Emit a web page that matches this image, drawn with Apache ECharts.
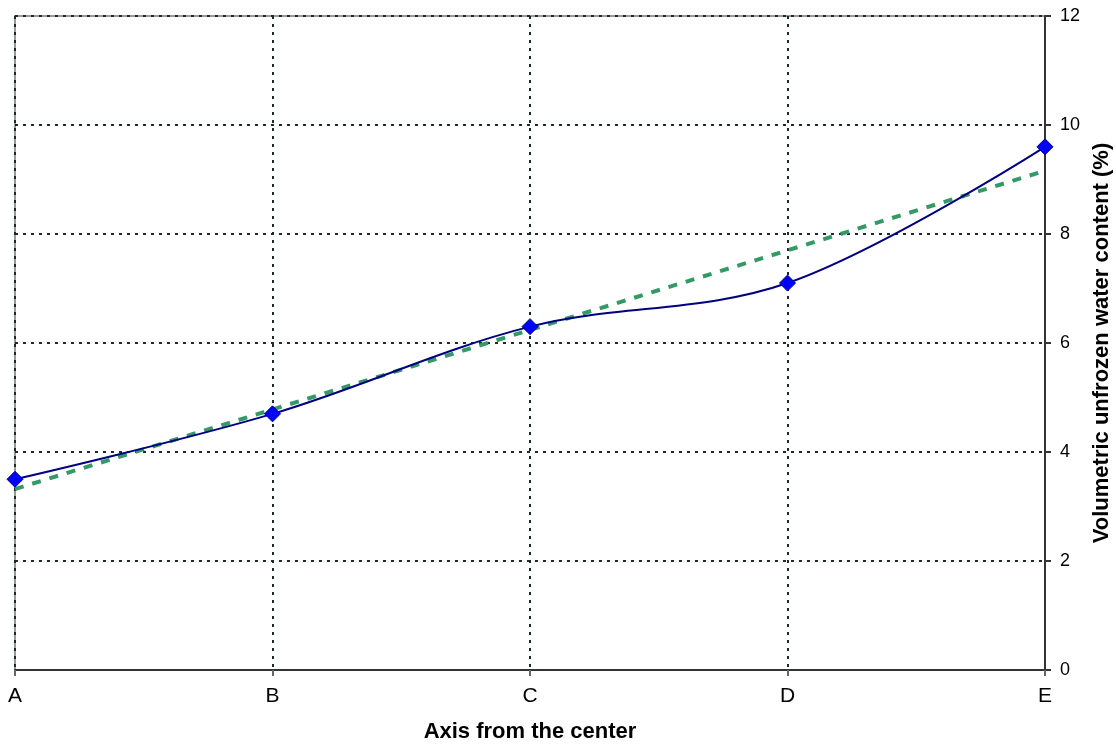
<!DOCTYPE html>
<html><head><meta charset="utf-8">
<script src="https://cdn.jsdelivr.net/npm/echarts@6/dist/echarts.min.js"></script>
<style>html,body{margin:0;padding:0;background:#fff}#c{width:1116px;height:746px}</style>
</head><body><div id="c"></div>
<script>
const categories = ['A', 'B', 'C', 'D', 'E'];
const waterContent = [3.5, 4.7, 6.3, 7.1, 9.6];
const trendValues = [3.32, 4.78, 6.24, 7.70, 9.16];
const yTicks = [0, 2, 4, 6, 8, 10, 12];

const chart = echarts.init(document.getElementById('c'), null, {renderer: 'canvas'});
const gridLine = {show: true, lineStyle: {color: '#1a2a2a', type: [3, 5], width: 2}};
chart.setOption({
  animation: false,
  grid: {left: 15, right: 71, top: 16, bottom: 76, outerBoundsMode: 'none', containLabel: false,
         show: true, borderColor: '#999', borderWidth: 2, backgroundColor: '#fff'},
  xAxis: {
    type: 'category', data: categories, boundaryGap: false,
    name: 'Axis from the center', nameLocation: 'middle', nameGap: 51,
    nameTextStyle: {fontFamily: 'Liberation Sans', fontWeight: 'bold', fontSize: 22, color: '#000'},
    axisLine: {lineStyle: {color: '#333', width: 2}},
    axisTick: {show: true, alignWithLabel: true, length: 6, lineStyle: {color: '#666', width: 2}},
    axisLabel: {fontFamily: 'Liberation Sans', fontSize: 21, color: '#000', margin: 16},
    splitLine: gridLine
  },
  yAxis: {
    type: 'value', position: 'right', min: yTicks[0], max: yTicks[yTicks.length - 1], interval: 2,
    name: 'Volumetric unfrozen water content (%)', nameLocation: 'middle', nameGap: 42, nameRotate: 90,
    nameTextStyle: {fontFamily: 'Liberation Sans', fontWeight: 'bold', fontSize: 22, color: '#000'},
    axisLine: {show: true, lineStyle: {color: '#333', width: 2}},
    axisTick: {show: true, length: 6, lineStyle: {color: '#333', width: 2}},
    axisLabel: {fontFamily: 'Liberation Sans', fontSize: 18, color: '#000', margin: 15},
    splitLine: gridLine
  },
  series: [
    {
      type: 'line', data: trendValues, symbol: 'none', z: 3,
      lineStyle: {color: '#339966', width: 4, type: [9, 9]}
    },
    {
      type: 'line', data: waterContent, smooth: 0.35, symbol: 'diamond', symbolSize: 16, z: 4,
      lineStyle: {color: '#000080', width: 2},
      itemStyle: {color: '#0000ff', borderColor: '#000080', borderWidth: 1}
    }
  ]
});
</script></body></html>
